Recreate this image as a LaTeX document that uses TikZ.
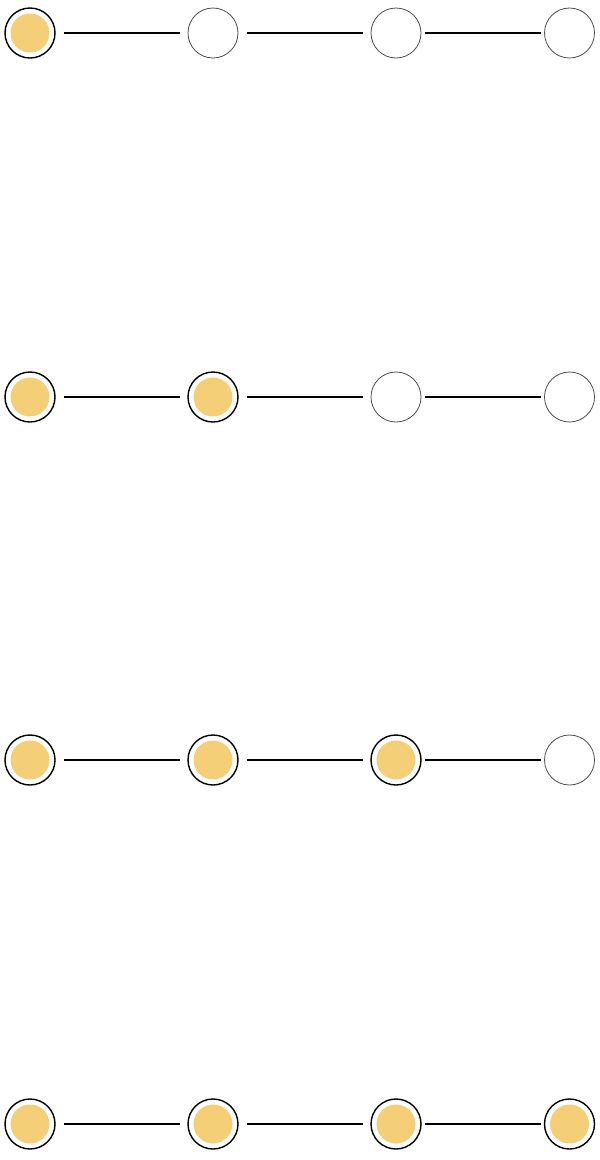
\documentclass[tikz,border=0pt]{standalone}
\usetikzlibrary{positioning}
\definecolor{sand}{HTML}{F5CF78}

\begin{document}
\begin{tikzpicture}[x=1pt, y=1pt, node distance=183pt,
                    empty node/.style={circle,draw=black!70,line width=0.8pt,minimum size=50pt,inner sep=0pt,outer sep=0pt},
                    full node/.style={empty node,draw=black,line width=1.4pt,
                      path picture={\fill[sand] (path picture bounding box.center) circle (19.5pt);}},
                    link/.style={line width=2pt,shorten <=8.5pt,shorten >=8.5pt},
                    short link/.style={link,shorten <=3.8pt,shorten >=3.8pt}]
  \useasboundingbox (0,0) rectangle (600,-1160);

  % step 1
  \node[full node] (a1) at (30,-33) {};
  \node[empty node] (a2) [right of=a1] {};
    \node[empty node] (a3) [right of=a2] {};
      \node[empty node] (a4) [right of=a3, node distance=173.5pt] {};

  % step 2
  \node[full node] (b1) [below of=a1, node distance=364pt] {};
  \node[full node] (b2) [right of=b1] {};
    \node[empty node] (b3) [right of=b2] {};
      \node[empty node] (b4) [right of=b3, node distance=173.5pt] {};

  % step 3
  \node[full node] (c1) [below of=b1, node distance=363pt] {};
  \node[full node] (c2) [right of=c1] {};
    \node[full node] (c3) [right of=c2] {};
      \node[empty node] (c4) [right of=c3, node distance=173.5pt] {};

  % step 4
  \node[full node] (d1) [below of=c1, node distance=364pt] {};
  \node[full node] (d2) [right of=d1] {};
    \node[full node] (d3) [right of=d2] {};
      \node[full node] (d4) [right of=d3, node distance=173.5pt] {};

\path
    (a1) edge[link] (a2)
    (a2) edge[link] (a3)
    (a3) edge[short link] (a4)

    (b1) edge[link] (b2)
    (b2) edge[link] (b3)
    (b3) edge[short link] (b4)

    (c1) edge[link] (c2)
    (c2) edge[link] (c3)
    (c3) edge[short link] (c4)

    (d1) edge[link] (d2)
    (d2) edge[link] (d3)
    (d3) edge[short link] (d4);

\end{tikzpicture}
\end{document}
